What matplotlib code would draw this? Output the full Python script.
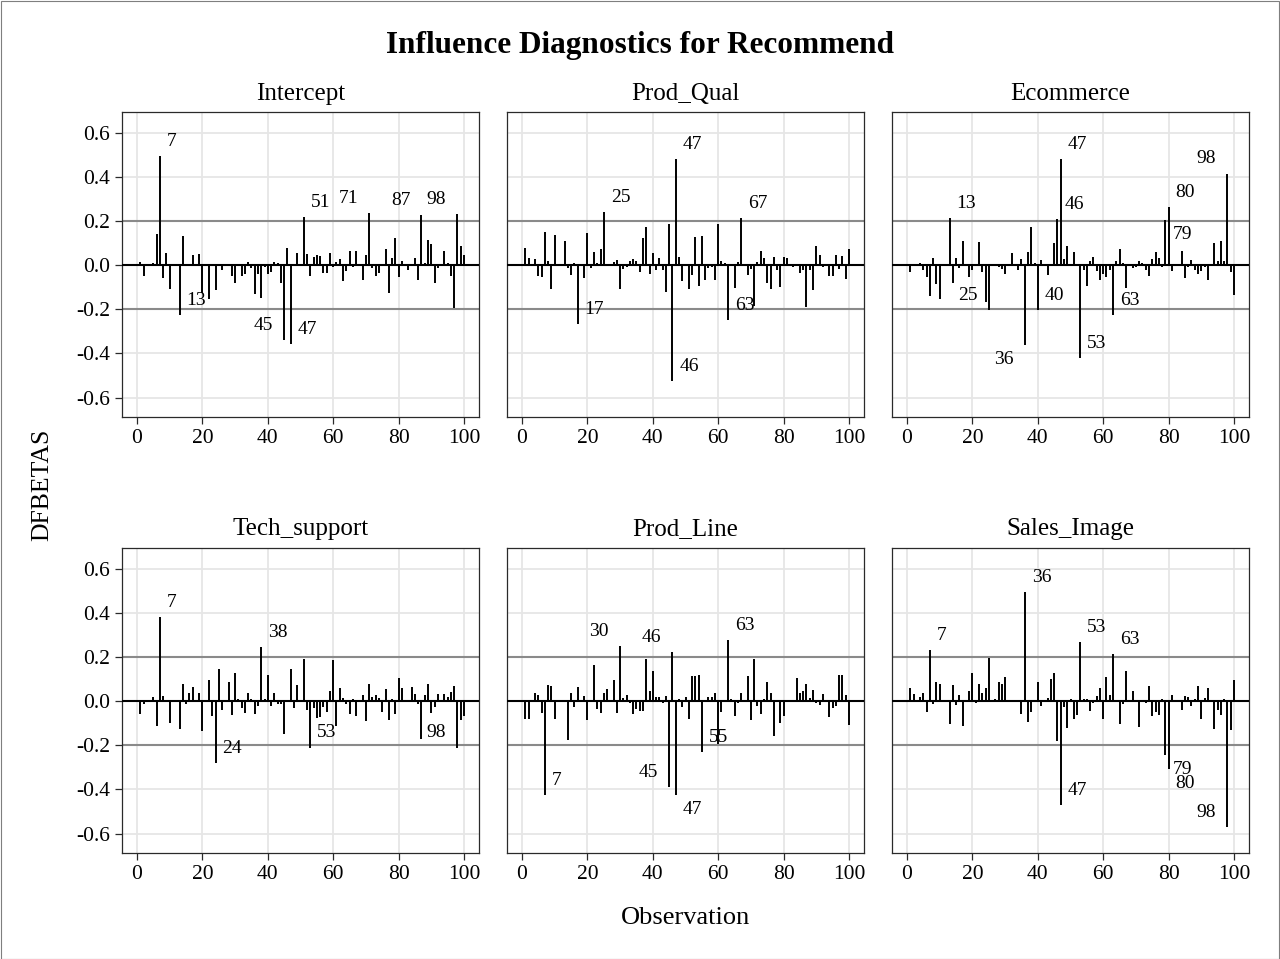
import matplotlib
matplotlib.use("Agg")
import matplotlib.pyplot as plt
from matplotlib.patches import Rectangle
from matplotlib.ticker import FuncFormatter

plt.rcParams["font.family"] = ["Liberation Serif", "DejaVu Serif"]
plt.rcParams["axes.unicode_minus"] = False

obs = list(range(1, 101))

intercept = [
    0.014, -0.047, 0.004, -0.003, 0.01, 0.143, 0.495, -0.06, 0.056, -0.11,
    -0.004, 0.003, -0.227, 0.132, 0.004, 0.006, 0.047, 0.005, 0.051, -0.125,
    0.004, -0.152, 0.003, -0.113, 0.006, -0.02, 0.004, 0.006, -0.05, -0.083,
    0.003, -0.047, -0.038, 0.014, -0.012, -0.13, -0.04, -0.15, -0.01, -0.038,
    -0.03, 0.014, 0.008, -0.08, -0.34, 0.078, -0.356, 0.003, 0.056, 0.006,
    0.217, 0.051, -0.047, 0.035, 0.044, 0.04, -0.035, -0.035, 0.057, -0.008,
    0.015, 0.03, -0.07, -0.027, 0.063, -0.008, 0.062, 0.004, -0.068, 0.044,
    0.236, -0.014, -0.048, -0.035, -0.006, 0.072, -0.126, 0.033, 0.125, -0.053,
    0.021, 0.004, -0.02, 0.003, 0.033, -0.065, 0.227, 0.012, 0.116, 0.096,
    -0.08, -0.014, 0.003, 0.063, 0.008, -0.05, -0.195, 0.232, 0.086, 0.047,
]

prod_qual = [
    0.078, 0.033, 0.004, 0.029, -0.05, -0.054, 0.152, 0.021, -0.107, 0.137,
    0.003, 0.004, 0.111, -0.014, -0.045, 0.008, -0.266, 0.003, -0.057, 0.147,
    -0.012, 0.059, 0.01, 0.074, 0.241, 0.006, 0.003, 0.014, 0.023, -0.107,
    -0.017, -0.01, 0.021, 0.026, 0.021, -0.03, 0.123, 0.173, -0.04, 0.057,
    -0.02, 0.032, -0.02, -0.123, 0.186, -0.526, 0.481, 0.039, -0.07, 0.004,
    -0.107, -0.044, 0.128, -0.095, 0.132, -0.065, -0.015, -0.009, -0.065, 0.188,
    0.021, 0.011, -0.25, 0.003, -0.105, 0.015, 0.214, 0.004, -0.044, -0.017,
    -0.185, 0.015, 0.062, 0.033, -0.08, -0.11, 0.035, -0.023, -0.098, 0.036,
    0.032, 0.003, -0.009, 0.003, -0.036, -0.02, -0.19, -0.02, -0.114, 0.089,
    0.047, -0.009, 0.003, -0.047, -0.051, 0.048, -0.017, 0.041, -0.062, 0.075,
]

ecommerce = [
    -0.032, 0.003, 0.004, 0.01, -0.02, -0.053, -0.14, 0.033, -0.086, -0.155,
    0.003, 0.004, 0.214, -0.083, 0.033, -0.015, 0.108, 0.003, -0.054, -0.02,
    0.006, 0.104, -0.03, -0.167, -0.205, 0.006, 0.003, -0.01, -0.017, -0.042,
    0.003, 0.056, 0.004, -0.024, 0.027, -0.36, 0.059, 0.173, 0.01, -0.205,
    0.024, 0.006, -0.044, 0.003, 0.102, 0.21, 0.48, 0.03, 0.086, 0.004,
    0.06, 0.003, -0.42, -0.024, -0.095, 0.021, 0.036, -0.027, -0.066, -0.04,
    -0.053, -0.02, -0.226, 0.018, 0.074, 0.01, -0.102, 0.003, -0.012, -0.01,
    0.02, 0.008, -0.021, -0.047, 0.03, 0.06, 0.032, -0.009, 0.203, 0.265,
    -0.027, 0.003, 0.006, 0.062, -0.057, -0.009, 0.024, -0.024, -0.04, -0.027,
    -0.009, -0.065, 0.003, 0.1, 0.018, 0.108, 0.018, 0.415, -0.032, -0.137,
]

tech_support = [
    -0.056, -0.014, 0.003, -0.004, 0.02, -0.112, 0.38, 0.024, 0.006, -0.097,
    0.003, 0.004, -0.126, 0.08, -0.014, 0.035, 0.065, 0.004, 0.035, -0.135,
    0.003, 0.095, -0.068, -0.279, 0.145, -0.038, 0.004, 0.085, -0.062, 0.126,
    0.008, -0.033, -0.052, 0.039, 0.012, -0.06, -0.021, 0.244, 0.011, 0.12,
    -0.02, 0.035, -0.011, -0.014, -0.147, 0.003, 0.144, -0.029, 0.071, 0.004,
    0.19, -0.041, -0.21, -0.032, -0.077, -0.071, -0.026, -0.048, 0.045, 0.186,
    -0.112, 0.059, 0.015, -0.014, -0.06, 0.009, -0.068, 0.003, 0.027, -0.088,
    0.08, 0.018, 0.026, 0.015, -0.048, 0.053, -0.086, 0.009, -0.056, 0.106,
    0.059, 0.003, 0.004, 0.065, 0.032, -0.014, -0.171, 0.03, 0.08, -0.052,
    -0.027, 0.032, 0.003, 0.032, 0.02, 0.042, 0.068, -0.21, -0.086, -0.065,
]

prod_line = [
    -0.082, -0.082, 0.003, 0.039, 0.03, -0.053, -0.424, 0.073, 0.068, -0.083,
    0.005, 0.003, 0.004, -0.177, 0.039, -0.027, 0.065, 0.003, 0.023, -0.086,
    0.003, 0.165, -0.036, -0.053, 0.038, 0.055, 0.004, 0.094, -0.052, 0.25,
    0.014, 0.03, -0.008, -0.056, -0.036, -0.045, -0.045, 0.19, 0.045, 0.136,
    0.018, 0.018, -0.008, 0.023, -0.39, 0.224, -0.423, 0.012, -0.026, 0.02,
    -0.079, 0.112, 0.112, 0.118, -0.23, 0.003, 0.021, 0.021, 0.038, -0.195,
    -0.048, 0.004, 0.277, 0.012, -0.068, -0.008, 0.038, 0.003, 0.112, -0.086,
    0.19, -0.023, -0.06, 0.009, 0.086, 0.036, -0.159, 0.005, -0.1, -0.065,
    0.003, 0.004, 0.003, 0.103, 0.039, 0.045, 0.08, 0.015, 0.05, -0.008,
    -0.017, 0.033, 0.003, -0.071, -0.03, -0.02, 0.118, 0.118, 0.03, -0.109,
]

sales_image = [
    0.058, 0.032, 0.003, 0.018, 0.038, -0.048, 0.232, -0.014, 0.089, 0.077,
    0.003, 0.004, -0.102, 0.071, -0.017, 0.027, -0.114, 0.003, 0.048, 0.129,
    -0.008, 0.077, 0.035, 0.061, 0.197, 0.003, 0.008, 0.086, 0.077, 0.108,
    0.003, 0.004, 0.003, 0.005, -0.056, 0.494, -0.094, -0.048, 0.003, 0.088,
    -0.023, 0.003, 0.015, 0.102, 0.126, -0.18, -0.47, -0.026, -0.12, 0.012,
    -0.082, -0.064, 0.267, 0.009, 0.012, -0.044, -0.008, 0.023, 0.061, -0.082,
    0.109, 0.027, 0.212, 0.003, -0.102, -0.011, 0.136, 0.003, 0.045, 0.004,
    -0.117, 0.003, -0.008, 0.068, -0.068, -0.048, -0.064, 0.008, -0.242, -0.306,
    0.026, 0.003, 0.005, -0.041, 0.024, 0.017, -0.023, 0.008, 0.067, -0.08,
    0.015, 0.058, 0.003, -0.126, -0.038, -0.062, 0.012, -0.571, -0.129, 0.094,
]

titles = ["Intercept", "Prod_Qual", "Ecommerce", "Tech_support", "Prod_Line", "Sales_Image"]
series = [intercept, prod_qual, ecommerce, tech_support, prod_line, sales_image]
cutoff = 0.2

# which side of the needle tip each observation label sits on
label_side = [
    {7: "ru", 13: "ru", 45: "lu", 47: "ru", 51: "ru", 71: "lu", 87: "lu", 98: "lu"},
    {17: "ru", 25: "ru", 46: "ru", 47: "ru", 63: "ru", 67: "ru"},
    {13: "ru", 25: "lu", 36: "ld", 40: "ru", 46: "ru", 47: "ru", 53: "ru",
     63: "ru", 79: "rd", 80: "ru", 98: "lu"},
    {7: "ru", 24: "ru", 38: "ru", 53: "ru", 98: "lu"},
    {7: "ru", 30: "lu", 45: "lu", 46: "lu", 47: "rd", 55: "ru", 63: "ru"},
    {7: "ru", 36: "ru", 47: "ru", 53: "ru", 63: "ru", 79: "rd", 80: "rd", 98: "lu"},
]

W, H = 1280, 959
fig = plt.figure(figsize=(W / 100, H / 100), dpi=100)
fig.patches.append(Rectangle((0.5 / W, 0.5 / H), 1 - 1.5 / W, 1 - 1.5 / H,
                             transform=fig.transFigure, fill=False,
                             edgecolor="#7f7f7f", linewidth=0.8))

lefts = [122, 507, 892]
tops = [112, 548]
pw, ph = 357, 305

fmt = FuncFormatter(lambda v, p: f"{v:.1f}")

for k, (name, vals) in enumerate(zip(titles, series)):
    r, c = divmod(k, 3)
    ax = fig.add_axes([lefts[c] / W, 1 - (tops[r] + ph) / H, pw / W, ph / H])
    ax.set_xlim(-4.6, 104.6)
    ax.set_ylim(-0.688, 0.694)
    ax.set_xticks(range(0, 101, 20))
    ax.set_yticks([-0.6, -0.4, -0.2, 0.0, 0.2, 0.4, 0.6])
    ax.yaxis.set_major_formatter(fmt)
    ax.grid(True, color="#e6e6e6", linewidth=1.3)
    ax.set_axisbelow(True)
    ax.axhline(cutoff, color="#8a8a8a", linewidth=1.5, zorder=1)
    ax.axhline(-cutoff, color="#8a8a8a", linewidth=1.5, zorder=1)
    ax.vlines(obs, 0, vals, color="black", linewidth=1.4, zorder=2)
    ax.axhline(0, color="black", linewidth=1.5, zorder=3)
    for sp in ax.spines.values():
        sp.set_color("#2a2a2a")
        sp.set_linewidth(0.9)
    ax.tick_params(axis="both", labelsize=15.5, length=5, width=0.9,
                   color="#2a2a2a", direction="out")
    if c > 0:
        ax.tick_params(axis="y", left=False, labelleft=False)
    ax.set_title(name, fontsize=18, pad=9)

    for i, v in zip(obs, vals):
        if abs(v) <= cutoff:
            continue
        side = label_side[k].get(i, "ru")
        dx = 5 if side[0] == "r" else -8
        dy = 10.5 if side[1] == "u" else -10.5
        ax.annotate(str(i), (i, v), xytext=(dx, dy), textcoords="offset points",
                    ha="left" if side[0] == "r" else "right", va="center",
                    fontsize=14, zorder=4)

fig.text(640 / W, 1 - 45 / H, "Influence Diagnostics for Recommend",
         ha="center", va="center", fontsize=22.5, fontweight="bold")
fig.text(42 / W, 1 - 485 / H, "DFBETAS", rotation=90,
         ha="center", va="center", fontsize=18.5)
fig.text(686 / W, 1 - 918 / H, "Observation", ha="center", va="center", fontsize=19)

fig.savefig("out.png", dpi=100)
